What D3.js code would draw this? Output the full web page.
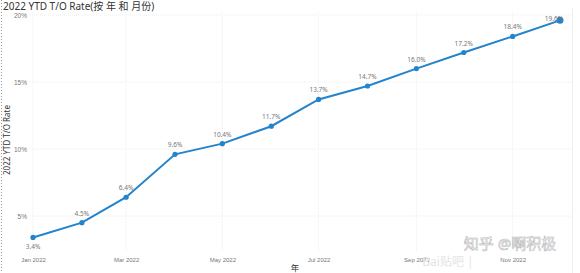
<!DOCTYPE html>
<html>
<head>
<meta charset="utf-8">
<script src="https://cdn.jsdelivr.net/npm/d3@7"></script>
<style>
body{margin:0;background:#fff;}
</style>
</head>
<body>
<script>
const months = ["2022-01","2022-02","2022-03","2022-04","2022-05","2022-06","2022-07","2022-08","2022-09","2022-10","2022-11","2022-12"];
const rates = [3.4,4.5,6.4,9.6,10.4,11.7,13.7,14.7,16.0,17.2,18.4,19.6];
const yTicks = [5,10,15,20];
const xTickMonths = ["2022-01","2022-03","2022-05","2022-07","2022-09","2022-11"];

function main(){
    const width = 580;
    const height = 273;
    const parse = d3.timeParse("%Y-%m");

    const svg = d3.select("body").append("svg")
        .attr("width",width)
        .attr("height",height)
        .style("font-family","'Segoe UI','Noto Sans','Noto Sans CJK SC',sans-serif");

    const data = months.map(function(m,i){return {date:parse(m),value:rates[i]}});

    const x = d3.scaleTime()
        .domain([parse("2022-01"),parse("2022-12")])
        .range([33,560]);
    const y = d3.scaleLinear()
        .domain([5,20])
        .range([216,15]);

    // left dotted selection border
    svg.append("line")
        .attr("x1",1.5).attr("x2",1.5).attr("y1",0).attr("y2",height)
        .attr("stroke","#999").attr("stroke-dasharray","1,2");
    svg.append("line")
        .attr("x1",572.5).attr("x2",572.5).attr("y1",8).attr("y2",height)
        .attr("stroke","#eee");

    // grid
    svg.append("g").selectAll("line")
        .data(yTicks).enter().append("line")
        .attr("x1",30).attr("x2",572)
        .attr("y1",d=>y(d)).attr("y2",d=>y(d))
        .attr("stroke","#eeeeee").attr("stroke-dasharray","1,1");
    svg.append("g").selectAll("line")
        .data(xTickMonths).enter().append("line")
        .attr("x1",d=>x(parse(d))).attr("x2",d=>x(parse(d)))
        .attr("y1",12).attr("y2",252)
        .attr("stroke","#eeeeee").attr("stroke-dasharray","1,1");

    // y axis
    const yAxis = d3.axisLeft(y).tickValues(yTicks).tickSize(0).tickPadding(0)
        .tickFormat(d=>d+"%");
    svg.append("g").attr("transform","translate(27,0)").call(yAxis)
        .call(g=>g.select(".domain").remove())
        .selectAll("text").attr("fill","#777").attr("font-size",6.5);

    // x axis
    const xAxis = d3.axisBottom(x).tickValues(xTickMonths.map(parse)).tickSize(0).tickPadding(0)
        .tickFormat(d3.timeFormat("%b %Y"));
    svg.append("g").attr("transform","translate(0,258)").call(xAxis)
        .call(g=>g.select(".domain").remove())
        .selectAll("text").attr("fill","#777").attr("font-size",6);

    // titles
    svg.append("text").attr("x",3).attr("y",9.5)
        .attr("font-size",10).attr("fill","#333")
        .text("2022 YTD T/O Rate(按 年 和 月份)");
    svg.append("text")
        .attr("transform","translate(10,140) rotate(-90)")
        .attr("text-anchor","middle").attr("font-size",8).attr("fill","#333")
        .text("2022 YTD T/O Rate");
    svg.append("text").attr("x",295).attr("y",271)
        .attr("text-anchor","middle").attr("font-size",8.5).attr("fill","#333")
        .text("年");

    // line
    const line = d3.line().x(d=>x(d.date)).y(d=>y(d.value));
    svg.append("path").datum(data)
        .attr("d",line).attr("fill","none")
        .attr("stroke","#2384cc").attr("stroke-width",2);
    svg.append("g").selectAll("circle")
        .data(data).enter().append("circle")
        .attr("cx",d=>x(d.date)).attr("cy",d=>y(d.value))
        .attr("r",d=>d===data[data.length-1]?3.5:2.6)
        .attr("fill","#2384cc");

    const last = data.length-1;
    svg.append("g").selectAll("text")
        .data(data).enter().append("text")
        .attr("x",(d,i)=>x(d.date)-(i===last?6:0))
        .attr("y",(d,i)=>i===0?y(d.value)+12:(i===last?y(d.value)+1:y(d.value)-7))
        .attr("text-anchor","middle").attr("font-size",6.5).attr("fill","#777")
        .text(d=>d.value.toFixed(1)+"%");

    // watermark
    svg.append("text").attr("x",510).attr("y",249)
        .attr("text-anchor","middle").attr("font-size",15)
        .attr("fill","#fff").attr("stroke","#bbb").attr("stroke-width",0.6)
        .text("知乎 @啊积极");
    svg.append("text").attr("x",448).attr("y",266)
        .attr("text-anchor","middle").attr("font-size",12)
        .attr("fill","#e4e4e4")
        .text("Bai贴吧 |");
}
main();
</script>
</body>
</html>
